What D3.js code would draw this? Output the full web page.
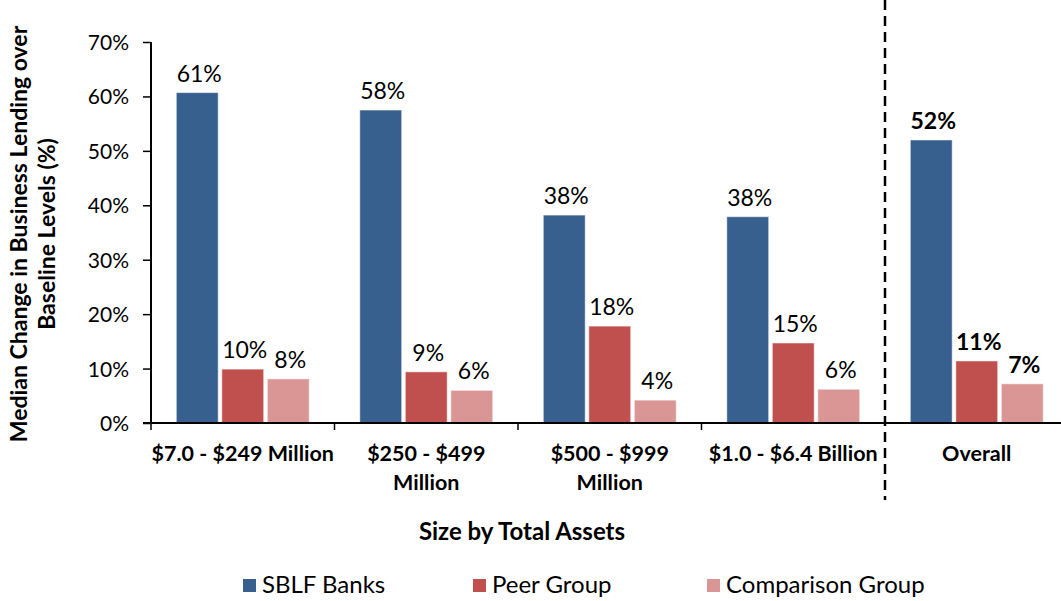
<!DOCTYPE html>
<html>
  <head>
  	<title>Business Lending by Size</title>
  	<script src="https://d3js.org/d3.v7.min.js"></script>
  	<style>
  		body { margin: 0; background: #fff; }
  		text { font-family: Lato, "Open Sans", sans-serif; fill: #000; }
  	</style>
  </head>
  <body>
  	<div id="chartDiv"></div>
  	<script>
  		// data
  		var categories = ["$7.0 - $249 Million", "$250 - $499 Million", "$500 - $999 Million", "$1.0 - $6.4 Billion", "Overall"];
  		var categoryLines = [["$7.0 - $249 Million"], ["$250 - $499", "Million"], ["$500 - $999", "Million"], ["$1.0 - $6.4 Billion"], ["Overall"]];
  		var seriesNames = ["SBLF Banks", "Peer Group", "Comparison Group"];
  		var sblfValues = [60.7, 57.5, 38.2, 37.9, 52.0];
  		var peerValues = [9.9, 9.4, 17.8, 14.7, 11.4];
  		var comparisonValues = [8.1, 6.0, 4.2, 6.2, 7.2];
  		var yTicks = [0, 10, 20, 30, 40, 50, 60, 70];
  		var colors = ["#37608f", "#c0504d", "#d99694"];

  		var allValues = [sblfValues, peerValues, comparisonValues];

  		var svgWidth = 1061, svgHeight = 601;
  		var margin = {top: 42, left: 151, bottom: 178};
  		var plotBottom = svgHeight - margin.bottom; // 423
  		var bandStep = 183.5;

  		var svg = d3.select('#chartDiv')
  			.append('svg')
  			.attr('width', svgWidth)
  			.attr('height', svgHeight);

  		var x0 = d3.scaleBand()
  			.domain(categories)
  			.range([margin.left, margin.left + bandStep * categories.length])
  			.padding(0);

  		var x1 = d3.scaleBand()
  			.domain(seriesNames)
  			.range([0, x0.bandwidth()])
  			.paddingInner(0.08)
  			.paddingOuter(0.556);

  		var y = d3.scaleLinear()
  			.domain([0, 70])
  			.range([plotBottom, margin.top]);

  		// bars
  		var groups = svg.selectAll('.group')
  			.data(categories)
  			.enter().append('g')
  			.attr('class', 'group')
  			.attr('transform', function(d) { return 'translate(' + x0(d) + ',0)'; });

  		groups.each(function(cat, ci) {
  			var g = d3.select(this);
  			var rows = seriesNames.map(function(s, si) {
  				return {series: s, si: si, value: allValues[si][ci], overall: cat === "Overall"};
  			});
  			g.selectAll('rect')
  				.data(rows)
  				.enter().append('rect')
  				.attr('x', function(d) { return x1(d.series); })
  				.attr('y', function(d) { return y(d.value); })
  				.attr('width', x1.bandwidth())
  				.attr('height', function(d) { return plotBottom - y(d.value); })
  				.style('fill', function(d) { return colors[d.si]; })
  				.style('stroke', '#ffffff')
  				.style('stroke-opacity', 0.5)
  				.style('stroke-width', 1);

  			g.selectAll('.lbl')
  				.data(rows)
  				.enter().append('text')
  				.attr('class', 'lbl')
  				.attr('x', function(d) { return x1(d.series) + x1.bandwidth() / 2 + 2; })
  				.attr('y', function(d) { return y(d.value) - 11; })
  				.style('text-anchor', 'middle')
  				.style('font-size', '23px')
  				.style('font-weight', function(d) { return d.overall ? 'bold' : 'normal'; })
  				.text(function(d) { return Math.round(d.value) + '%'; });
  		});

  		// y axis
  		var yAxis = d3.axisLeft(y)
  			.tickValues(yTicks)
  			.tickSize(8)
  			.tickPadding(14)
  			.tickFormat(function(d) { return d + '%'; });

  		var yG = svg.append('g')
  			.attr('transform', 'translate(' + margin.left + ',0)')
  			.call(yAxis);
  		yG.select('.domain').attr('d', 'M0,' + margin.top + 'V' + plotBottom).style('stroke', '#000').style('stroke-width', 2);
  		yG.selectAll('.tick line').style('stroke', '#000').style('stroke-width', 1.5);
  		yG.selectAll('.tick text')
  			.style('font-size', '21px')
  			.style('font-family', 'Lato, sans-serif')
  			.attr('dy', '0.36em');

  		// x axis line and boundary ticks
  		svg.append('line')
  			.attr('x1', margin.left - 8).attr('x2', svgWidth)
  			.attr('y1', plotBottom).attr('y2', plotBottom)
  			.style('stroke', '#000').style('stroke-width', 2);

  		svg.selectAll('.xtick')
  			.data(categories.slice(0, 4))
  			.enter().append('line')
  			.attr('class', 'xtick')
  			.attr('x1', function(d) { return x0(d); })
  			.attr('x2', function(d) { return x0(d); })
  			.attr('y1', plotBottom)
  			.attr('y2', plotBottom + 7)
  			.style('stroke', '#000').style('stroke-width', 1.5);

  		// category labels
  		svg.selectAll('.cat')
  			.data(categories)
  			.enter().append('text')
  			.attr('class', 'cat')
  			.attr('x', function(d) { return x0(d) + x0.bandwidth() / 2; })
  			.attr('y', plotBottom + 38)
  			.style('text-anchor', 'middle')
  			.style('font-size', '21.5px')
  			.style('font-weight', 'bold')
  			.each(function(d, i) {
  				var t = d3.select(this);
  				categoryLines[i].forEach(function(line, li) {
  					t.append('tspan')
  						.attr('x', x0(d) + x0.bandwidth() / 2)
  						.attr('dy', li === 0 ? 0 : 29)
  						.text(line);
  				});
  			});

  		// dashed separator before "Overall"
  		svg.append('line')
  			.attr('x1', x0("Overall")).attr('x2', x0("Overall"))
  			.attr('y1', 0).attr('y2', 500)
  			.style('stroke', '#000')
  			.style('stroke-width', 2.5)
  			.style('stroke-dasharray', '10,6');

  		// axis titles
  		svg.append('text')
  			.attr('x', 522)
  			.attr('y', 540)
  			.style('text-anchor', 'middle')
  			.style('font-size', '24px')
  			.style('font-weight', 'bold')
  			.text('Size by Total Assets');

  		var yTitle = svg.append('text')
  			.attr('transform', 'translate(27,234) rotate(-90)')
  			.style('text-anchor', 'middle')
  			.style('font-size', '23px')
  			.style('font-weight', 'bold');
  		yTitle.append('tspan').attr('x', 0).attr('dy', 0).text('Median Change in Business Lending over');
  		yTitle.append('tspan').attr('x', 0).attr('dy', 28).text('Baseline Levels (%)');

  		// legend
  		var legendX = [243, 473, 707];
  		var legend = svg.selectAll('.legend')
  			.data(seriesNames)
  			.enter().append('g')
  			.attr('class', 'legend')
  			.attr('transform', function(d, i) { return 'translate(' + legendX[i] + ',579)'; });
  		legend.append('rect')
  			.attr('width', 13).attr('height', 13)
  			.style('fill', function(d, i) { return colors[i]; });
  		legend.append('text')
  			.attr('x', 19)
  			.attr('y', 14)
  			.style('font-size', '24px')
  			.text(function(d) { return d; });
  	</script>
  </body>
</html>
